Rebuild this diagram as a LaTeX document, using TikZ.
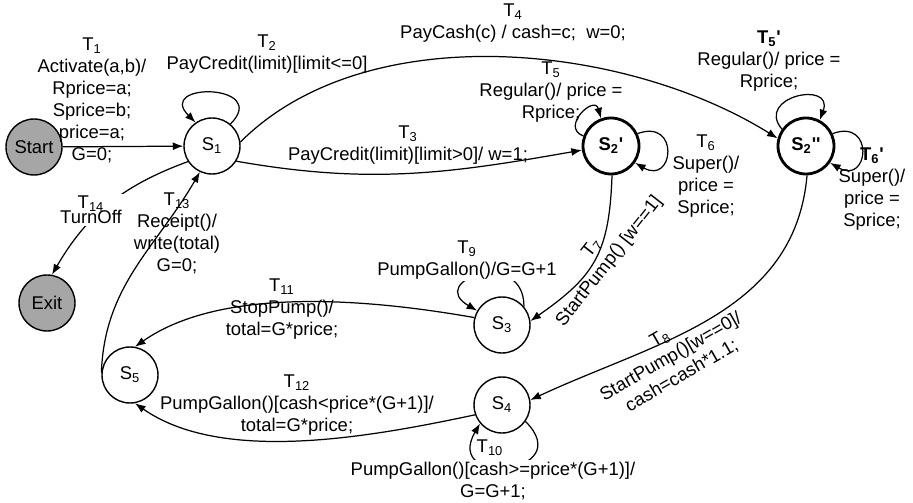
\documentclass[tikz,border=0pt]{standalone}
\usepackage{fontspec}
\setmainfont{Liberation Sans}
\usetikzlibrary{arrows.meta}

\newcommand{\lblfont}{\fontsize{10.5}{12.5}\selectfont}
\newcommand{\pr}{\textquotesingle}

\begin{document}
\begin{tikzpicture}[x=0.02cm, y=-0.02cm, font=\lblfont,
    >={Latex[length=6pt, width=4.5pt]},
    state/.style={circle, draw, line width=0.8pt, minimum size=1.12cm, inner sep=0pt},
    final/.style={state, line width=1.6pt, font=\lblfont\bfseries},
    term/.style={state, fill=gray!70},
    lbl/.style={align=center, inner sep=1pt},
    trans/.style={->, line width=0.7pt}]

    \useasboundingbox (0, 0) rectangle (913, 503);

    \node[term] (start) at (34, 147) {Start};
    \node[state] (s1) at (212, 146) {S\textsubscript{1}};
    \node[final] (s2a) at (611, 146) {S\textsubscript{2}\pr};
    \node[final] (s2b) at (806, 146) {S\textsubscript{2}\pr\pr};
    \node[state] (s3) at (502, 325) {S\textsubscript{3}};
    \node[state] (s4) at (502, 405) {S\textsubscript{4}};
    \node[state] (s5) at (130, 375) {S\textsubscript{5}};
    \node[term] (exit) at (47, 303) {Exit};

    \draw[trans] (start) -- (s1);
    \draw[trans] (s1.50) to[out=45, in=135, distance=1.15cm] (s1.125);
    \draw[trans] (s1.-32) to[out=-10, in=190] (s2a.188);
    \draw[trans] (s1.8) to[out=45, in=148, looseness=0.85] (s2b.165);

    \draw[trans] (s2a.160) to[out=160, in=105, distance=0.5cm] (s2a.110);
    \draw[trans] (s2a.25) to[out=20, in=-30, distance=0.9cm] (s2a.-35);
    \draw[trans] (s2b.145) to[out=130, in=70, distance=0.85cm] (s2b.62);
    \draw[trans] (s2b.25) to[out=20, in=-30, distance=0.9cm] (s2b.-35);

    \draw[trans] (s2a.-88) to[out=-92, in=35, looseness=1.2] (s3.8);
    \draw[trans] (s2b.-88) to[out=-95, in=25] (s4.10);

    \draw[trans] (s3.40) to[out=90, in=150, distance=1.2cm] (s3.150);
    \draw[trans] (s4.-35) to[out=-45, in=-120, distance=1.5cm] (s4.-140);

    \draw[trans] (s3.165) to[out=170, in=35, looseness=0.8] (s5.80);
    \draw[trans] (s4.200) to[out=192, in=-35, looseness=0.8] (s5.-80);
    \draw[trans] (s5.175) to[out=88, in=240] (s1.245);
    \draw[trans] (s1.213) to[out=200, in=60] (exit.80);

    \node[lbl] (t1) at (92, 100) {T\textsubscript{1}\\Activate(a,b)/\\Rprice=a;\\Sprice=b;\\price=a;\\G=0;};
    \node[lbl] (t2) at (267, 54) {T\textsubscript{2}\\PayCredit(limit)[limit<=0]};
    \node[lbl] (t3) at (408, 145) {T\textsubscript{3}\\PayCredit(limit)[limit>0]/ w=1;};
    \node[lbl] (t4) at (513, 23) {T\textsubscript{4}\\PayCash(c) / cash=c;\ \ w=0;};
    \node[lbl] (t5) at (551, 92) {T\textsubscript{5}\\Regular()/ price =\\Rprice;};
    \node[lbl] (t6) at (706, 176) {T\textsubscript{6}\\Super()/\\price =\\Sprice;};
    \node[lbl] (t5b) at (769, 61) {\textbf{T\textsubscript{5}\pr}\\Regular()/ price =\\Rprice;};
    \node[lbl] (t6b) at (872, 189) {\textbf{T\textsubscript{6}\pr}\\Super()/\\price =\\Sprice;};
    \node[lbl, rotate=52] (t7) at (601, 255) {T\textsubscript{7}\\StartPump() [w==1]};
    \node[lbl, rotate=30] (t8) at (671, 357) {T\textsubscript{8}\\StartPump()[w==0]/\\cash=cash*1.1;};
    \node[lbl, fill=white] (t9) at (467, 260) {T\textsubscript{9}\\PumpGallon()/G=G+1};
    \node[lbl] (t10) at (490, 448) {T\textsubscript{10}};
    \node[lbl, fill=white] (t10b) at (493, 481) {PumpGallon()[cash>=price*(G+1)]/\\G=G+1;};
    \node[lbl] (t11) at (282, 309) {T\textsubscript{11}\\StopPump()/\\total=G*price;};
    \node[lbl] (t12) at (297, 405) {T\textsubscript{12}\\PumpGallon()[cash<price*(G+1)]/\\total=G*price;};
    \node[lbl] (t13) at (177, 233) {T\textsubscript{13}\\Receipt()/\\write(total)\\G=0;};
    \node[lbl, fill=white] (t14) at (91, 210) {T\textsubscript{14}\\[-4pt]TurnOff};
\end{tikzpicture}
\end{document}
